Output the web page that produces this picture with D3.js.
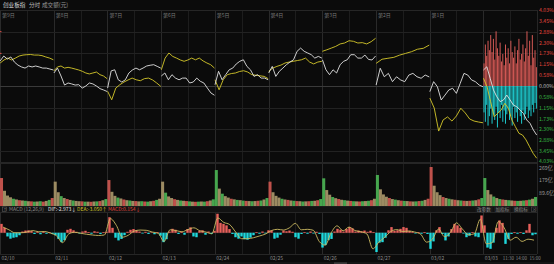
<!DOCTYPE html>
<html><head><meta charset="utf-8">
<script src="https://cdn.jsdelivr.net/npm/d3@7"></script>
<style>
html,body{margin:0;padding:0;background:#0b0b0b;overflow:hidden}
svg{display:block}
text{font-family:"Noto Sans CJK SC","Noto Sans",sans-serif}
</style></head><body>
<svg id="c" width="554" height="264"></svg>
<script>
// ---------- DATA ----------
const dates = ['02/10','02/11','02/12','02/13','02/24','02/25','02/26','02/27','03/02','03/03'];
const dayTags = ['第9日','第8日','第7日','第6日','第5日','第4日','第3日','第2日','第1日',''];
const timeTicks = ['11:30','14:00','15:00'];
const timeTickT = [9.5, 9.75, 10];

// price line (white), % change, per day
const priceLine = [
 [1.33,1.59,1.43,1.54,1.27,1.11,1.01,0.95,1.06,1.01,1.06,1.01,0.95,0.95,0.90,0.85],
 [0.69,0.95,0.53,0.05,0.16,0.11,0.05,0.07,-0.11,0.00,0.16,0.11,0.00,-0.14,-0.21,-0.29],
 [-0.11,0.80,0.86,0.33,0.21,0.33,0.69,0.85,0.95,0.86,0.95,1.06,1.10,1.13,1.04,0.95],
 [0.53,0.69,0.33,0.60,0.42,0.33,0.42,0.42,0.16,0.21,0.42,0.25,0.16,-0.11,-0.37,-0.49],
 [0.07,0.78,0.33,0.60,0.86,0.95,1.17,1.31,1.39,1.04,0.86,0.51,0.60,0.42,0.42,0.33],
 [0.69,1.04,0.51,0.78,0.95,1.13,1.27,1.39,1.84,2.01,1.84,1.75,1.66,1.48,1.57,1.48],
 [1.39,0.86,0.60,0.86,0.69,1.13,1.31,1.39,1.66,1.66,1.48,1.48,1.64,1.41,1.38,1.59],
 [0.05,0.94,0.49,0.67,0.23,0.49,0.32,0.23,0.58,0.67,0.49,0.41,0.58,0.48],
 [-0.30,0.23,-0.04,-0.74,-0.48,-0.21,-0.12,-0.39,0.14,0.67,0.58,0.32,0.23,0.05,-0.04],
 [0.85,1.02,0.41,-0.21,-0.57,-0.83,-0.74,-0.48,-0.74,-1.01,-1.10,-1.27,-1.45,-1.80,-1.98,-2.33,-2.60]
];
// average line (yellow), % change, per day
const avgLine = [
 [1.22,1.38,1.48,1.38,1.48,1.59,1.64,1.66,1.67,1.64,1.64,1.61,1.54,1.48,1.39],
 [0.80,1.01,1.06,0.95,0.99,0.95,0.90,0.85,0.78,0.69,0.64,0.69,0.74,0.60,0.53,0.39],
 [-0.28,-0.73,-0.11,0.07,0.21,0.32,0.42,0.33,0.28,0.39,0.42,0.32,0.16,-0.02],
 [0.86,1.48,1.75,1.57,1.48,1.38,1.31,1.38,1.48,1.39,1.48,1.33,1.22,1.13,0.95],
 [0.33,-0.20,0.33,0.60,0.66,0.69,0.77,0.81,0.74,0.60,0.57,0.54,0.51,0.39],
 [0.78,0.95,1.04,1.11,1.22,1.27,1.31,1.35,1.39,1.48,1.27,1.17,1.27,1.31],
 [1.84,1.92,2.01,2.10,2.23,2.28,2.40,2.37,2.28,2.30,2.23,2.35,2.53],
 [1.20,1.42,1.47,1.52,1.64,1.73,1.82,1.95,2.00,2.17],
 [-0.64,-1.17,-2.39,-1.80,-1.64,-1.86,-1.59,-1.18,-1.43,-1.75,-1.86,-1.91,-1.95],
 [0.41,-0.04,-0.83,-1.63,-1.45,-1.27,-0.92,-1.18,-1.80,-2.16,-2.51,-2.60,-2.86,-3.22,-3.57,-3.83]
];
// today's buy / sell bars (% units)
const todayUp = [1.2,2.2,1.6,2.4,1.9,2.7,1.8,2.5,1.4,2.9,2.0,1.6,2.3,1.3,1.7,1.1,2.2,1.5,2.0,1.2,2.4,1.8,1.5,2.1,1.2,1.9,2.5,1.4,1.7,2.2,1.3,2.0,2.9,1.6,2.4,1.1,2.7,1.5,1.9,1.0];
const todayDown = [-1.4,-1.9,-1.0,-2.1,-1.6,-1.2,-2.0,-1.5,-1.8,-1.1,-2.2,-1.4,-1.7,-1.0,-1.9,-1.3,-2.0,-1.5,-1.2,-1.8,-1.6,-2.1,-1.1,-1.7,-1.4,-1.9,-1.2,-1.6,-2.0,-1.3,-1.8,-1.5,-1.1,-1.7,-1.3,-1.6,-1.0,-1.4,-0.9,-1.2];

const pctTicks = [4.03,3.45,2.88,2.30,1.73,1.15,0.58,0,-0.58,-1.15,-1.73,-2.30,-2.88,-3.45,-4.03];
const pctGrid = [2.88,1.73,0,-1.15,-2.30,-3.45];

// volume (亿), 18 bars per day, with colour codes
const volume = [
 [193,105,72,60,50,45,40,38,36,33,32,30,31,33,30,35,42,55],
 [168,95,68,55,48,42,38,35,33,32,30,30,29,31,32,34,40,48],
 [179,98,70,58,52,45,40,38,35,34,32,33,31,30,33,36,42,50],
 [168,92,66,55,47,42,38,36,34,32,30,29,30,31,30,33,38,46],
 [248,120,85,68,58,50,46,42,40,37,35,34,33,34,36,38,45,55],
 [168,95,70,58,50,45,42,38,36,34,33,31,32,33,35,36,40,48],
 [191,110,78,62,54,48,43,40,37,35,33,32,31,33,34,36,40,50],
 [214,115,80,64,55,48,44,40,37,35,34,32,31,32,34,36,42,50],
 [269,140,95,75,62,55,50,46,43,40,38,36,35,36,38,40,46,55],
 [193,110,80,65,55,48,45,42,40,38,36,35,36,38,40,44,50,62]
];
const volColor = [
 "rtttgtrtgtrgtgrtgr","ttgtrtgttrgtrtgrtg","rttgtrtgtrtgrgtrgt","tgttrtgtrgtrgtgrtg","gtgttrtgtgrtgtrgtg",
 "rtttgtrtgrtgtrgtrg","gttgtrtgtrgtrgtgrt","gtttrtgtrgtrtgrgtr","rtttrtgtrtgrtrgtrg","gttgtgrtgtrgtgrgtg"
];
const volTicks = [269,179,89.6];
const volTickLabels = ['269亿','179亿','89.6亿'];

// MACD histogram (179 bars) and DIF line (90 points)
const macdHist = [3.6,2.0,-1.5,-2.4,-2.0,-1.8,-1.0,0.5,0.9,1.0,0.7,-0.5,0.4,-0.6,0.5,-0.4,0.3,-0.5,
 -1.0,-2.5,-3.8,-3.0,1.2,1.6,1.0,0.4,-0.3,0.5,0.8,0.3,-0.4,0.6,0.4,-0.5,0.3,0.4,
 6.3,2.0,-2.0,-3.1,-2.5,-1.0,0.4,1.2,1.5,1.0,0.5,-0.3,0.4,-0.5,0.2,-0.6,0.3,
 -1.2,-3.8,-2.6,0.5,1.6,1.2,-0.5,0.4,-0.8,1.5,2.2,-1.5,-1.8,0.8,1.0,-0.8,0.5,-0.5,0.8,
 7.7,4.0,3.6,3.0,1.5,-0.5,-1.8,-2.4,-1.5,-2.6,-2.8,-2.0,-1.0,0.3,-0.4,0.5,-0.3,1.0,1.0,
 -2.4,-2.0,-0.8,0.9,0.6,0.9,0.4,-1.8,-2.4,-0.5,0.3,-0.4,0.5,-0.3,0.4,-0.5,
 -6.0,-5.0,-3.0,-2.5,0.5,1.6,1.2,0.5,1.5,2.3,1.8,0.5,0.9,0.6,0.9,0.4,0.8,0.3,
 -7.8,-4.0,-3.8,-2.0,1.0,2.3,0.8,1.0,1.6,2.3,2.0,0.8,0.4,-0.3,0.3,-0.4,0.3,-0.5,
 -6.5,-3.5,1.0,2.3,-0.5,-3.1,-1.5,1.5,3.6,3.0,2.0,-0.3,-1.8,-1.2,0.3,-1.5,-1.8,
 7.0,3.0,-6.0,-6.5,-4.0,2.0,5.0,4.0,-4.5,-2.5,-0.5,0.3,-0.4,0.3,-0.5,1.0,3.6,-1.0,-0.6];
const difLine = [2.3,1.2,0.0,0.0,0.3,0.9,0.4,0.5,-0.2,-1.3,-4.0,-0.5,0.2,-0.2,-0.6,-0.9,-1.1,-0.9,
 5.7,3.0,-1.8,-1.0,0.7,1.1,1.0,0.3,-0.2,-3.5,1.2,0.9,0.4,1.3,2.0,0.8,0.3,-0.4,
 6.0,4.2,3.3,0.3,-2.4,-2.4,-2.0,-1.3,-0.5,0.9,1.4,1.1,2.0,3.8,1.2,1.4,1.0,-3.5,
 -5.0,0.0,2.8,0.8,2.3,0.9,0.4,-0.5,-6.5,-3.8,-1.8,0.5,1.3,0.5,0.7,0.3,-0.6,-3.8,
 -2.5,1.5,-1.6,0.2,4.0,1.5,-0.8,-0.4,5.5,-4.5,-4.0,4.5,2.0,-3.0,-1.8,-3.5,-2.6,-3.0];

// ---------- DRAW ----------
const svg = d3.select('#c');
const W = 554, H = 264, R = 537;
const FONT = 5.6;
svg.append('rect').attr('width',W).attr('height',H).attr('fill','#0b0b0b');

const x = d3.scaleLinear().domain([0,10]).range([0,R]);
const yP = d3.scaleLinear().domain([-4.03,4.03]).range([162,10]);
const yV = d3.scaleLinear().domain([0,269]).range([206,167]);
const yM = d3.scaleLinear().domain([-9,8]).range([255,213]);

const red = '#e0504a', cyan = '#1fd8dc';

// header
const hdr = svg.append('g').attr('font-size',FONT);
hdr.append('text').attr('x',3).attr('y',6.5).attr('fill','#d8d8d8').text('创业板指');
hdr.append('text').attr('x',29).attr('y',6.5).attr('fill','#bbbbbb').text('分时');
hdr.append('text').attr('x',42).attr('y',6.5).attr('fill','#999999').text('成交额(元)');

// panels grid
function vgrid(y0,y1){
  const g = svg.append('g');
  g.selectAll('line').data(d3.range(0,20.5,0.5)).join('line')
    .attr('x1',d=>Math.round(x(d))+0.5).attr('x2',d=>Math.round(x(d))+0.5)
    .attr('y1',y0).attr('y2',y1)
    .attr('stroke',d=>d%1===0?'#2a2a2a':'#1d1d1d').attr('stroke-width',1);
}
vgrid(10,162); vgrid(163,206); vgrid(212,254);

// horizontal grids main
svg.append('g').selectAll('line').data(pctGrid).join('line')
  .attr('x1',0).attr('x2',R).attr('y1',d=>Math.round(yP(d))+0.5).attr('y2',d=>Math.round(yP(d))+0.5)
  .attr('stroke',d=>d===0?'#3a3a3a':'#222').attr('stroke-width',1);
[10,162,163,206,212,254].forEach(v=>{
  svg.append('line').attr('x1',0).attr('x2',R).attr('y1',v+0.5).attr('y2',v+0.5).attr('stroke','#262626');
});
svg.append('line').attr('x1',R+0.5).attr('x2',R+0.5).attr('y1',10).attr('y2',254).attr('stroke','#262626');

// left tiny red ticks
[2.88,1.73].forEach(v=>svg.append('rect').attr('x',0).attr('y',yP(v)-0.5).attr('width',1.5).attr('height',1).attr('fill',red));

// day tags
svg.append('g').attr('font-size',5).attr('fill','#7a7a7a').selectAll('text').data(dayTags).join('text')
  .attr('x',(d,i)=>x(i)+2).attr('y',16.5).text(d=>d);

// today bars
const tb = svg.append('g');
const bw = (x(10)-x(9))/todayUp.length;
tb.selectAll('.u').data(todayUp).join('rect').attr('class','u')
  .attr('x',(d,i)=>x(9)+i*bw+0.2).attr('width',Math.max(0.9,bw*0.75))
  .attr('y',d=>yP(d)).attr('height',d=>yP(0)-yP(d)).attr('fill','#e5605b').attr('opacity',0.92);
tb.selectAll('.d').data(todayDown).join('rect').attr('class','d')
  .attr('x',(d,i)=>x(9)+i*bw+0.2).attr('width',Math.max(0.9,bw*0.75))
  .attr('y',yP(0)).attr('height',d=>yP(d)-yP(0)).attr('fill',cyan).attr('opacity',0.92);

// lines
function dayPts(arr,d){ const n=arr.length; return arr.map((v,i)=>[x(d+0.004+i/(n-1)*0.99), yP(v)]); }
const line = d3.line();
avgLine.forEach((arr,d)=>svg.append('path').attr('d',line(dayPts(arr,d))).attr('fill','none').attr('stroke','#d6c82a').attr('stroke-width',0.9).attr('stroke-linejoin','round'));
priceLine.forEach((arr,d)=>svg.append('path').attr('d',line(dayPts(arr,d))).attr('fill','none').attr('stroke','#e2e2e2').attr('stroke-width',0.9).attr('stroke-linejoin','round'));

// right axis
svg.append('g').attr('font-size',5.2).selectAll('text').data(pctTicks).join('text')
  .attr('x',539).attr('y',d=>yP(d)+(d===-4.03?1.2:2))
  .attr('fill',d=>d>0?'#e0463e':(d<0?'#35b544':'#bbbbbb'))
  .text(d=>Math.abs(d).toFixed(2)+'%');

// volume
const vcol = {r:'#bf514b', g:'#46a64e', t:'#9c8b62'};
const vb = (x(1)-x(0))/18;
volume.forEach((arr,d)=>{
  svg.append('g').selectAll('rect').data(arr).join('rect')
   .attr('x',(v,i)=>x(d)+i*vb).attr('width',vb+0.05)
   .attr('y',v=>yV(v)).attr('height',v=>yV(0)-yV(v))
   .attr('fill',(v,i)=>vcol[volColor[d][i]]);
});
svg.append('g').attr('font-size',5.2).attr('fill','#9a9a9a').selectAll('text').data(volTicks).join('text')
  .attr('x',539).attr('y',(d,i)=>yV(d)+(i===0?2.8:2)).text((d,i)=>volTickLabels[i]);

// MACD header
svg.append('rect').attr('x',0).attr('y',206.5).attr('width',R).attr('height',5.5).attr('fill','#121212');
svg.append('rect').attr('x',2.5).attr('y',207).attr('width',4).attr('height',4.5).attr('fill','none').attr('stroke','#666').attr('stroke-width',0.5);
const mh = svg.append('g').attr('font-size',5);
mh.append('text').attr('x',3.2).attr('y',211).attr('font-size',3.5).attr('fill','#aaa').text('↑');
mh.append('text').attr('x',9).attr('y',211.2).attr('fill','#8a8a8a').text('MACD (12,26,9)');
mh.append('text').attr('x',48).attr('y',211.2).attr('fill','#e6e6e6').text('DIF:-2.973↓');
mh.append('text').attr('x',77).attr('y',211.2).attr('fill','#d6c82a').text('DEA:-3.050↑');
mh.append('text').attr('x',108).attr('y',211.2).attr('fill','#e0463e').text('MACD:0.154↓');
const btns = ['改参数','加指标','换指标'];
btns.forEach((b,i)=>{
  svg.append('rect').attr('x',475.5+i*18.5).attr('y',206.5).attr('width',17).attr('height',5.5).attr('fill','#1a1a1a');
  svg.append('text').attr('x',477+i*18.5).attr('y',211.2).attr('font-size',4.6).attr('fill','#8a8a8a').text(b);
});
svg.append('rect').attr('x',531.5).attr('y',207).attr('width',4.5).attr('height',4.5).attr('fill','none').attr('stroke','#555').attr('stroke-width',0.5);
svg.append('text').attr('x',532.3).attr('y',210.8).attr('font-size',4.2).attr('fill','#888').text('×');

// MACD
svg.append('line').attr('x1',0).attr('x2',R).attr('y1',yM(0)).attr('y2',yM(0)).attr('stroke','#444').attr('stroke-width',0.5);
const hx = d3.scaleLinear().domain([0,macdHist.length]).range([0,R]);
svg.append('g').selectAll('rect').data(macdHist).join('rect')
  .attr('x',(d,i)=>hx(i)+0.3).attr('width',(hx(1)-hx(0))*0.8)
  .attr('y',d=>d>0?yM(d):yM(0)).attr('height',d=>Math.abs(yM(d)-yM(0)))
  .attr('fill',d=>d>0?'#e8605b':cyan);
const lx = d3.scaleLinear().domain([0,difLine.length]).range([0,R]);
svg.append('path').attr('d',d3.line().curve(d3.curveMonotoneX)(difLine.map((v,i)=>[lx(i+0.5),yM(v)])))
  .attr('fill','none').attr('stroke','#cdbb62').attr('stroke-width',0.9);

// x axis labels
const xa = svg.append('g').attr('font-size',5).attr('fill','#8a8a8a');
xa.selectAll('.dl').data(dates).join('text').attr('class','dl').attr('x',(d,i)=>x(i)+1.5).attr('y',260).text(d=>d);
xa.selectAll('.tl').data(timeTicks).join('text').attr('class','tl')
  .attr('x',(d,i)=>x(timeTickT[i])).attr('y',260).attr('font-size',4.5)
  .attr('dx',(d,i)=>i===0?-7.5:(i===1?-7.8:-7.5))
  .text(d=>d);

// scrollbar
svg.append('rect').attr('x',0).attr('y',262).attr('width',W).attr('height',2).attr('fill','#151515');
svg.append('rect').attr('x',334).attr('y',262.3).attr('width',13).attr('height',1.7).attr('fill','#3a3a3a');
</script></body></html>
